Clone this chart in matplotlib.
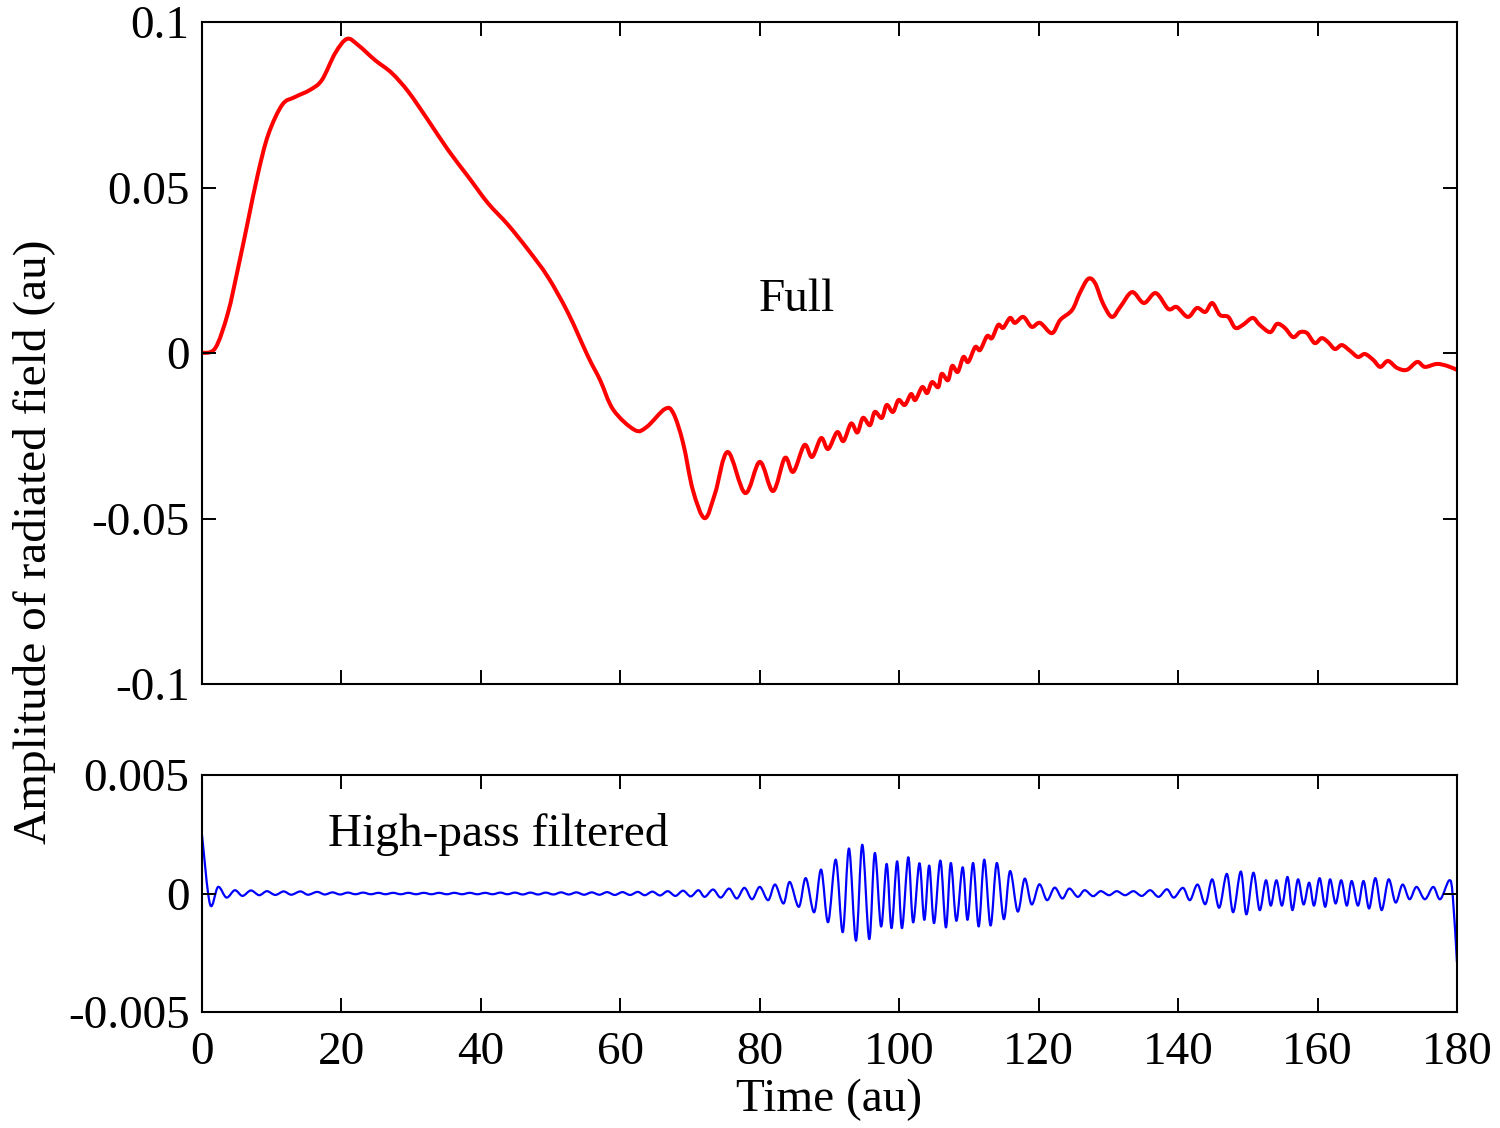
import matplotlib
matplotlib.use("Agg")
import matplotlib.pyplot as plt
from matplotlib.path import Path
from matplotlib.patches import PathPatch
import numpy as np

# Full radiated field (au) vs time (au)
full_time = [0.0, 1.9, 3.7, 5.2, 6.6, 8.0, 9.5, 11.5, 13.3, 15.5, 17.2, 19.1, 20.8, 22.4,
             24.8, 27.2, 29.6, 32.4, 35.3, 38.2, 41.0, 43.9, 46.8, 49.6, 52.5, 55.4, 57.1,
             59.0, 62.1, 63.8, 66.4, 67.6, 69.0, 70.4, 72.1, 73.6, 75.4, 77.9, 80.0, 81.9,
             83.6, 84.8, 86.4, 87.5, 88.8, 89.8, 91.1, 92.0, 93.1, 94.0, 94.8, 95.8, 96.5,
             97.5, 98.2, 99.1, 99.9, 100.8, 101.7, 102.3, 103.3, 104.0, 104.7, 105.6, 106.1,
             107.0, 107.6, 108.4, 109.2, 109.9, 110.9, 111.6, 112.6, 113.3, 114.2, 114.9,
             115.9, 116.6, 117.8, 119.0, 120.2, 121.9, 123.1, 124.8, 125.9, 127.1, 128.1,
             129.2, 130.5, 131.7, 133.4, 135.1, 136.8, 138.6, 139.8, 141.4, 142.7, 143.9,
             144.9, 146.0, 147.2, 148.2, 149.3, 150.7, 151.7, 153.2, 154.2, 155.3, 156.5,
             157.5, 158.5, 159.6, 160.6, 161.5, 162.5, 163.5, 164.7, 165.8, 166.8, 168.0,
             169.0, 170.1, 171.4, 172.8, 174.3, 175.4, 177.1, 178.6, 180.0]
full_value = [0.0, 0.0015, 0.012, 0.026, 0.040, 0.054, 0.066, 0.075, 0.0773, 0.0795, 0.0825,
              0.0906, 0.0949, 0.093, 0.0885, 0.0846, 0.0789, 0.0704, 0.0613, 0.0532, 0.0453,
              0.0387, 0.0311, 0.0230, 0.0121, -0.0012, -0.0082, -0.0172, -0.0233, -0.0223,
              -0.0169, -0.0182, -0.0272, -0.0414, -0.0499, -0.0423, -0.0299, -0.0423, -0.0329,
              -0.0417, -0.0317, -0.0359, -0.0278, -0.0314, -0.0257, -0.0290, -0.0239, -0.0266,
              -0.0213, -0.0240, -0.0196, -0.0218, -0.0178, -0.0196, -0.0157, -0.0178, -0.0142,
              -0.0157, -0.0124, -0.0142, -0.0103, -0.0121, -0.0088, -0.0103, -0.0063, -0.0082,
              -0.0039, -0.0057, -0.0012, -0.0027, 0.0018, 0.0009, 0.0051, 0.0045, 0.0085,
              0.0076, 0.0106, 0.0091, 0.0109, 0.0079, 0.0091, 0.0060, 0.0100, 0.0130, 0.0181,
              0.0224, 0.0211, 0.0151, 0.0109, 0.0139, 0.0184, 0.0151, 0.0181, 0.0133, 0.0139,
              0.0109, 0.0136, 0.0124, 0.0151, 0.0115, 0.0109, 0.0076, 0.0085, 0.0106, 0.0085,
              0.0063, 0.0088, 0.0076, 0.0048, 0.0063, 0.0060, 0.0030, 0.0045, 0.0033, 0.0012,
              0.0024, 0.0006, -0.0012, -0.0003, -0.0021, -0.0042, -0.0024, -0.0045, -0.0051,
              -0.0027, -0.0042, -0.0033, -0.0039, -0.0051]

# High-pass filtered field: successive turning points (au)
hp_time = [0.0, 1.15, 2.3, 3.5, 4.7, 5.8, 7.0, 8.2, 9.3, 10.5, 11.7, 12.8, 14.1, 15.2,
           16.5, 17.6, 18.7, 19.8, 20.9, 22.0, 23.1, 24.2, 25.3, 26.3, 27.4, 28.5, 29.6,
           30.7, 31.8, 32.9, 34.0, 35.1, 36.2, 37.3, 38.4, 39.5, 40.6, 41.7, 42.8, 43.8,
           44.9, 46.0, 47.1, 48.2, 49.3, 50.4, 51.5, 52.6, 53.7, 54.8, 55.9, 57.0, 58.1,
           59.2, 60.3, 61.4, 62.5, 63.5, 64.6, 65.7, 66.8, 67.9, 69.0, 70.1, 71.2, 72.1,
           73.3, 74.4, 75.6, 76.7, 77.8, 78.9, 80.0, 81.2, 82.2, 83.4, 84.3, 85.6, 86.6,
           87.8, 88.8, 89.8, 90.9, 91.9, 92.8, 93.8, 94.7, 95.7, 96.5, 97.4, 98.2, 98.9,
           99.7, 100.4, 101.3, 102.0, 102.9, 103.6, 104.3, 105.0, 105.9, 106.7, 107.4,
           108.2, 109.1, 109.8, 110.6, 111.4, 112.2, 113.1, 114.0, 115.0, 115.9, 117.0,
           118.0, 119.0, 120.1, 121.2, 122.3, 123.4, 124.4, 125.6, 126.6, 127.8, 128.9,
           130.1, 131.2, 132.4, 133.6, 134.8, 136.0, 137.2, 138.4, 139.4, 140.7, 141.7,
           142.8, 143.9, 144.9, 145.9, 147.0, 147.9, 149.0, 149.8, 150.8, 151.7, 152.6,
           153.3, 154.1, 154.9, 155.7, 156.4, 157.2, 158.0, 158.8, 159.5, 160.3, 161.1,
           161.8, 162.6, 163.4, 164.2, 164.9, 165.8, 166.6, 167.4, 168.3, 169.2, 170.2,
           171.2, 172.2, 173.2, 174.2, 175.4, 176.6, 177.6, 178.9, 179.4, 180.0]
hp_value = [0.00245, -0.00046, 0.00028, -0.00017, 0.00014, -0.00010, 0.00013, -0.00007,
            0.00010, -0.00006, 0.00009, -0.00005, 0.00009, -0.00005, 0.00007, -0.00004,
            0.00005, -0.00004, 0.00004, -0.00003, 0.00004, -0.00003, 0.00003, -0.00003,
            0.00003, -0.00003, 0.00003, -0.00003, 0.00003, -0.00003, 0.00003, -0.00003,
            0.00003, -0.00003, 0.00003, -0.00003, 0.00003, -0.00003, 0.00004, -0.00003,
            0.00004, -0.00004, 0.00004, -0.00004, 0.00004, -0.00004, 0.00005, -0.00004,
            0.00005, -0.00005, 0.00005, -0.00005, 0.00006, -0.00006, 0.00006, -0.00006,
            0.00007, -0.00007, 0.00008, -0.00008, 0.00010, -0.00010, 0.00012, -0.00012,
            0.00014, -0.00014, 0.00017, -0.00017, 0.00021, -0.00021, 0.00024, -0.00024,
            0.00028, -0.00028, 0.00038, -0.00042, 0.00049, -0.00056, 0.00065, -0.00079,
            0.00101, -0.00121, 0.00143, -0.00163, 0.00190, -0.00199, 0.00206, -0.00192,
            0.00171, -0.00139, 0.00125, -0.00146, 0.00136, -0.00146, 0.00153, -0.00122,
            0.00128, -0.00111, 0.00118, -0.00125, 0.00139, -0.00143, 0.00129, -0.00115,
            0.00111, -0.00111, 0.00129, -0.00139, 0.00143, -0.00135, 0.00129, -0.00108,
            0.00095, -0.00076, 0.00063, -0.00046, 0.00039, -0.00028, 0.00025, -0.00021,
            0.00021, -0.00014, 0.00014, -0.00011, 0.00010, -0.00007, 0.00010, -0.00007,
            0.00010, -0.00010, 0.00014, -0.00014, 0.00018, -0.00017, 0.00024, -0.00028,
            0.00038, -0.00045, 0.00060, -0.00060, 0.00083, -0.00079, 0.00093, -0.00088,
            0.00088, -0.00070, 0.00056, -0.00051, 0.00056, -0.00051, 0.00070, -0.00070,
            0.00060, -0.00046, 0.00046, -0.00051, 0.00065, -0.00056, 0.00060, -0.00042,
            0.00056, -0.00051, 0.00053, -0.00051, 0.00053, -0.00063, 0.00065, -0.00070,
            0.00060, -0.00038, 0.00038, -0.00024, 0.00028, -0.00024, 0.00028, -0.00024,
            0.00056, -0.00010, -0.00290]

x_ticks = [0, 20, 40, 60, 80, 100, 120, 140, 160, 180]
full_yticks = [-0.1, -0.05, 0, 0.05, 0.1]
full_ylabels = ["-0.1", "-0.05", "0", "0.05", "0.1"]
hp_yticks = [-0.005, 0, 0.005]
hp_ylabels = ["-0.005", "0", "0.005"]


def smooth_path(x, y):
    """Cubic Bezier path passing through every (x, y) point (Catmull-Rom tangents)."""
    p = np.column_stack([x, y]).astype(float)
    ext = np.vstack([p[0], p, p[-1]])
    verts = [p[0]]
    codes = [Path.MOVETO]
    for i in range(len(p) - 1):
        p0, p1, p2, p3 = ext[i], ext[i + 1], ext[i + 2], ext[i + 3]
        c1 = p1 + (p2 - p0) / 6.0
        c2 = p2 - (p3 - p1) / 6.0
        verts += [c1, c2, p2]
        codes += [Path.CURVE4] * 3
    return Path(verts, codes)


plt.rcParams["font.family"] = ["Liberation Serif", "DejaVu Serif"]
FS = 34

fig = plt.figure(figsize=(15, 11.28), dpi=100)
ax_full = fig.add_axes([0.1347, 0.3936, 0.8366, 0.5869])
ax_hp = fig.add_axes([0.1347, 0.1028, 0.8366, 0.2101])

ax_full.add_patch(PathPatch(smooth_path(full_time, full_value), fill=False,
                            edgecolor="red", linewidth=2.9, capstyle="round",
                            joinstyle="round"))
ax_hp.add_patch(PathPatch(smooth_path(hp_time, hp_value), fill=False,
                          edgecolor="blue", linewidth=1.6, joinstyle="round"))

for ax in (ax_full, ax_hp):
    ax.set_xlim(0, 180)
    ax.set_xticks(x_ticks)
    ax.tick_params(direction="in", length=10, width=1.4, top=True, right=True,
                   labelsize=FS, pad=9)
    ax.tick_params(axis="x", pad=14)
    for spine in ax.spines.values():
        spine.set_linewidth(1.5)

ax_full.set_ylim(-0.1, 0.1)
ax_full.set_yticks(full_yticks)
ax_full.set_yticklabels(full_ylabels)
ax_full.tick_params(labelbottom=False)

ax_hp.set_ylim(-0.005, 0.005)
ax_hp.set_yticks(hp_yticks)
ax_hp.set_yticklabels(hp_ylabels)
ax_hp.set_xlabel("Time (au)", fontsize=FS, labelpad=3)

ax_full.text(85.3, 0.016, "Full", fontsize=FS, ha="center", va="center")
ax_hp.text(42.5, 0.0025, "High-pass filtered", fontsize=FS, ha="center", va="center")

fig.text(0.023, 0.52, "Amplitude of radiated field (au)", fontsize=FS,
         rotation=90, ha="center", va="center")

fig.savefig("out.png", dpi=100)
